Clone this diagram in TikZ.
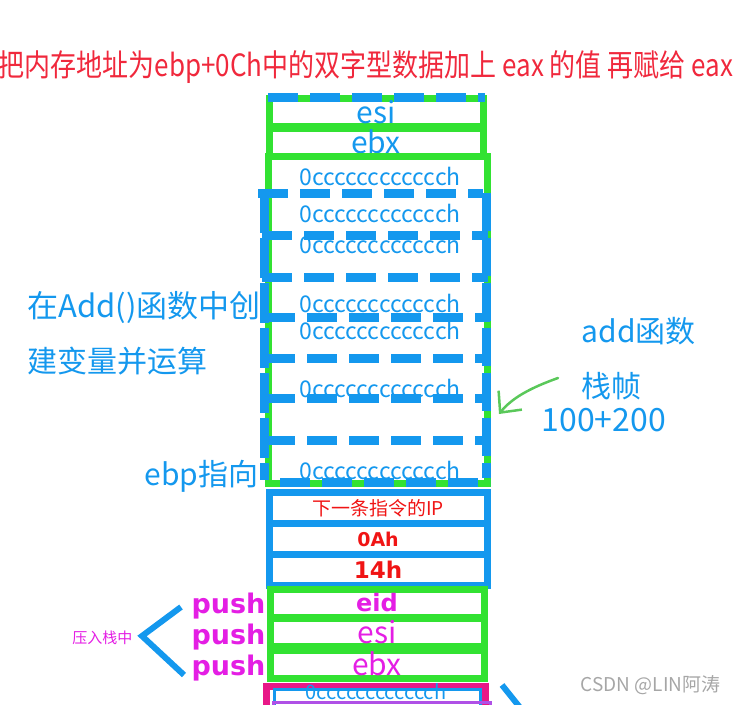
\documentclass[tikz,border=0pt]{standalone}
\usepackage{fontspec}
\setmainfont{Noto Sans CJK SC}
\newfontfamily\widefont{DejaVu Sans}
\usetikzlibrary{positioning,arrows.meta}

\definecolor{stackblue}{RGB}{20,152,238}
\definecolor{stackgreen}{RGB}{50,226,50}
\definecolor{handgreen}{RGB}{90,200,90}
\definecolor{titlered}{RGB}{240,40,60}
\definecolor{ipred}{RGB}{240,20,20}
\definecolor{pushpink}{RGB}{228,30,228}
\definecolor{framepink}{RGB}{232,24,135}
\definecolor{framepurple}{RGB}{175,80,230}
\newcommand{\setfs}[1]{\fontsize{#1}{#1}\selectfont}

\begin{document}
\begin{tikzpicture}[x=1pt, y=-1pt,
    cell/.style={rectangle, draw, line width=7pt, minimum width=214pt, inner sep=0pt},
    dashrule/.style={draw=stackblue, line width=9pt, dash pattern=on 30pt off 12pt},
    filler/.style={text=stackblue, font=\setfs{23}},
    note/.style={text=stackblue, font=\setfs{30}, anchor=west},
    pushtext/.style={text=pushpink, font=\widefont\bfseries\setfs{27}, anchor=west}
]
    \useasboundingbox (0,0) rectangle (736,704);

    % Title
    \node[text=titlered, font=\setfs{26}] (title) at (366,67) {\scalebox{1}[1.18]{把内存地址为ebp+0Ch中的双字型数据加上 eax 的值 再赋给 eax}};

    % Saved registers of the add frame
    \node[cell, draw=stackgreen, minimum height=28pt, text=stackblue, font=\setfs{30}] (topesi) at (376,112) {esi};
    \node[cell, draw=stackgreen, minimum height=28pt, text=stackblue, font=\setfs{30}] (topebx) at (376,142) {ebx};
    \node[draw=stackgreen, line width=7pt, minimum width=219pt, minimum height=327pt, inner sep=0pt] (addframe) at (377.5,319.5) {};

    % Locals of the add frame
    \node[filler] (cc1) at (380,176) {0cccccccccccch};
    \node[filler] (cc2) at (380,213) {0cccccccccccch};
    \node[filler] (cc3) at (380,244) {0cccccccccccch};
    \node[filler] (cc4) at (380,303) {0cccccccccccch};
    \node[filler] (cc5) at (380,330) {0cccccccccccch};
    \node[filler] (cc6) at (380,388) {0cccccccccccch};
    \node[filler] (cc7) at (380,470) {0cccccccccccch};

    \draw[dashrule] (268,97) -- (485,97);
    \draw[dashrule] (258,193) -- (483,193);
    \draw[dashrule] (262,235) -- (488,235);
    \draw[dashrule] (262,277) -- (488,277);
    \draw[dashrule] (265,317) -- (490,317);
    \draw[dashrule] (265,358) -- (490,358);
    \draw[dashrule] (265,398) -- (490,398);
    \draw[dashrule] (265,440) -- (490,440);
    \draw[dashrule] (280,482) -- (490,482);
    \draw[dashrule, dash pattern=on 40pt off 5pt] (264,193) -- (264,480);
    \draw[dashrule, dash pattern=on 38pt off 7pt] (486,193) -- (486,478);

    % Return address and arguments
    \node[cell, draw=stackblue, minimum width=218pt, minimum height=31pt, text=ipred, font=\setfs{19}] (nextip) at (378,508) {下一条指令的IP};
    \node[cell, draw=stackblue, minimum width=218pt, minimum height=31pt, text=ipred, font=\widefont\bfseries\setfs{19}] (argb) at (378,539) {0Ah};
    \node[cell, draw=stackblue, minimum width=218pt, minimum height=31pt, text=ipred, font=\widefont\bfseries\setfs{23}] (arga) at (378,570) {14h};

    % Registers pushed by main
    \node[cell, draw=stackgreen, minimum height=28pt, text=pushpink, font=\widefont\bfseries\setfs{24}] (savedeid) at (377,603) {eid};
    \node[cell, draw=stackgreen, minimum height=28pt, text=pushpink, font=\setfs{30}] (savedesi) at (377,632) {esi};
    \node[cell, draw=stackgreen, minimum height=28pt, text=pushpink, font=\setfs{30}] (savedebx) at (377,664) {ebx};

    % main frame below
    \draw[framepink, line width=7pt] (266,686) rectangle (485,712);
    \draw[stackblue, line width=3pt] (274,689) rectangle (480,712);
    \node[filler, font=\setfs{20}] (cc8) at (376,692) {0cccccccccccch};
    \draw[framepurple, line width=3pt] (273,712) -- (273,702) -- (490,702) -- (490,712);
    \draw[stackblue, line width=6pt] (502,685) -- (522,710);

    % push notes
    \node[pushtext] (push1) at (188,606) {push};
    \node[pushtext] (push2) at (188,637) {push};
    \node[pushtext] (push3) at (188,668) {push};
    \coordinate (brtop) at (181,607);
    \coordinate (brtip) at (142,636);
    \coordinate (brbot) at (184,675);
    \draw[stackblue, line width=6pt] (brtop) -- (brtip) -- (brbot);
    \node[text=pushpink, font=\setfs{15}, anchor=east] (pushnote) at (136,638) {压入栈中};

    % Side notes
    \node[note, font=\setfs{31}] (addnote1) at (24,307) {在Add()函数中创};
    \node[note] (addnote2) at (24,361) {建变量并运算};
    \node[note, anchor=east] (ebpnote) at (262,476) {ebp指向};
    \node[note] (framenote1) at (578,331) {add函数};
    \node[note] (framenote2) at (578,386) {栈帧};
    \node[note, font=\setfs{32}] (framenote3) at (538,420) {100+200};

    \coordinate (arrowstart) at (558,378);
    \coordinate (arrowtip) at (499,414);
    \draw[handgreen, line width=2.5pt, line cap=round, -{Straight Barb[length=16pt, width=30pt]}] (arrowstart) .. controls (530,388) and (512,398) .. (arrowtip);

    \node[text=gray!70, font=\setfs{19}, anchor=east] (credit) at (724,685) {CSDN @LIN阿涛};
\end{tikzpicture}
\end{document}
